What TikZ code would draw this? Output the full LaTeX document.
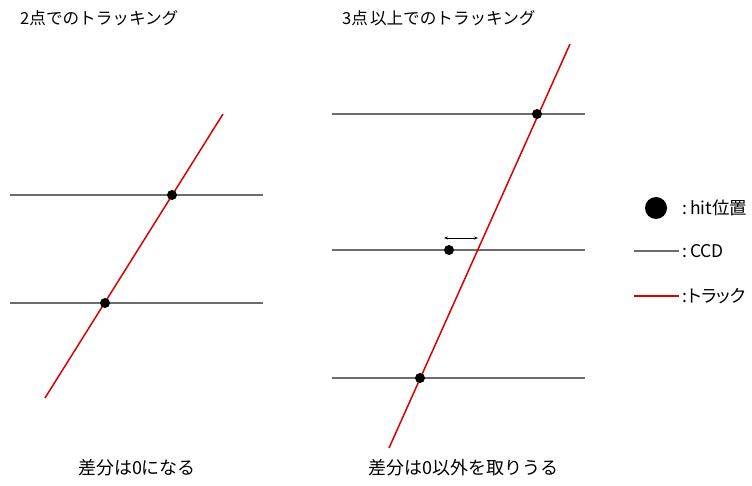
\documentclass[tikz,border=0pt]{standalone}
\usepackage{fontspec}
\setmainfont{Noto Sans CJK JP}
\newfontfamily\keyfont{Noto Sans CJK JP}[RawFeature=+palt]
\usetikzlibrary{arrows.meta}
\tikzset{
  ccd/.style={draw=gray!85!black, line width=1.8pt},
  track/.style={draw=red!85!black, line width=1.5pt},
  hit/.style={circle, fill=black, inner sep=0pt, minimum size=10pt},
  label/.style={font=\fontsize{16.6}{19}\selectfont, inner sep=0pt},
  caption/.style={font=\fontsize{18}{20}\selectfont, inner sep=0pt},
  key/.style={font=\keyfont\fontsize{17.5}{20}\selectfont, inner sep=0pt, anchor=west},
}
\begin{document}
\begin{tikzpicture}[x=1pt, y=-1pt]
  \useasboundingbox (0,0) rectangle (752,486);

  % Titles
  \node[label, anchor=west] (t2) at (20,18) {2点でのトラッキング};
  \node[label, anchor=west] (t3) at (342,18) {3点\hspace{2pt}以上でのトラッキング};

  % Left panel: CCD layers
  \coordinate (la1) at (10,195);  \coordinate (lb1) at (263,195);
  \coordinate (la2) at (10,303);  \coordinate (lb2) at (263,303);
  \draw[ccd] (la1) -- (lb1);
  \draw[ccd] (la2) -- (lb2);

  % Left panel: track
  \coordinate (ltrk0) at (45,398);
  \coordinate (ltrk1) at (223,114);
  \draw[track] (ltrk0) -- (ltrk1);
  \node[hit] (lh1) at (172,195) {};
  \node[hit] (lh2) at (105,303) {};

  % Right panel: CCD layers
  \coordinate (ra1) at (332,114);  \coordinate (rb1) at (585,114);
  \coordinate (ra2) at (332,250);  \coordinate (rb2) at (585,250);
  \coordinate (ra3) at (332,378);  \coordinate (rb3) at (585,378);
  \draw[ccd] (ra1) -- (rb1);
  \draw[ccd] (ra2) -- (rb2);
  \draw[ccd] (ra3) -- (rb3);

  % Right panel: track
  \coordinate (rtrk0) at (389,448);
  \coordinate (rtrk1) at (570,44);
  \draw[track] (rtrk0) -- (rtrk1);
  \node[hit] (rh1) at (537,114) {};
  \node[hit] (rh2) at (449,250) {};
  \node[hit] (rh3) at (420,378) {};

  % Residual
  \coordinate (res0) at (444,238);
  \coordinate (res1) at (478,238);
  \draw[{Stealth[length=4pt]}-{Stealth[length=4pt]}, line width=0.7pt] (res0) -- (res1);

  % Bottom captions
  \node[caption] (c2) at (137,468) {差分は0になる};
  \node[caption] (c3) at (463,468) {差分は0以外を取りうる};

  % Legend
  \node[hit, minimum size=22pt] (kh) at (656,208) {};
  \node[key] (kht) at (682,208) {:\hspace{3pt}hit位置};
  \coordinate (kc0) at (634,251);  \coordinate (kc1) at (679,251);
  \draw[ccd] (kc0) -- (kc1);
  \node[key] (kct) at (682,251) {:\hspace{3pt}CCD};
  \coordinate (kt0) at (634,296);  \coordinate (kt1) at (679,296);
  \draw[track, line width=2pt] (kt0) -- (kt1);
  \node[key] (ktt) at (682,296) {:\hspace{1pt}トラック};
\end{tikzpicture}
\end{document}
